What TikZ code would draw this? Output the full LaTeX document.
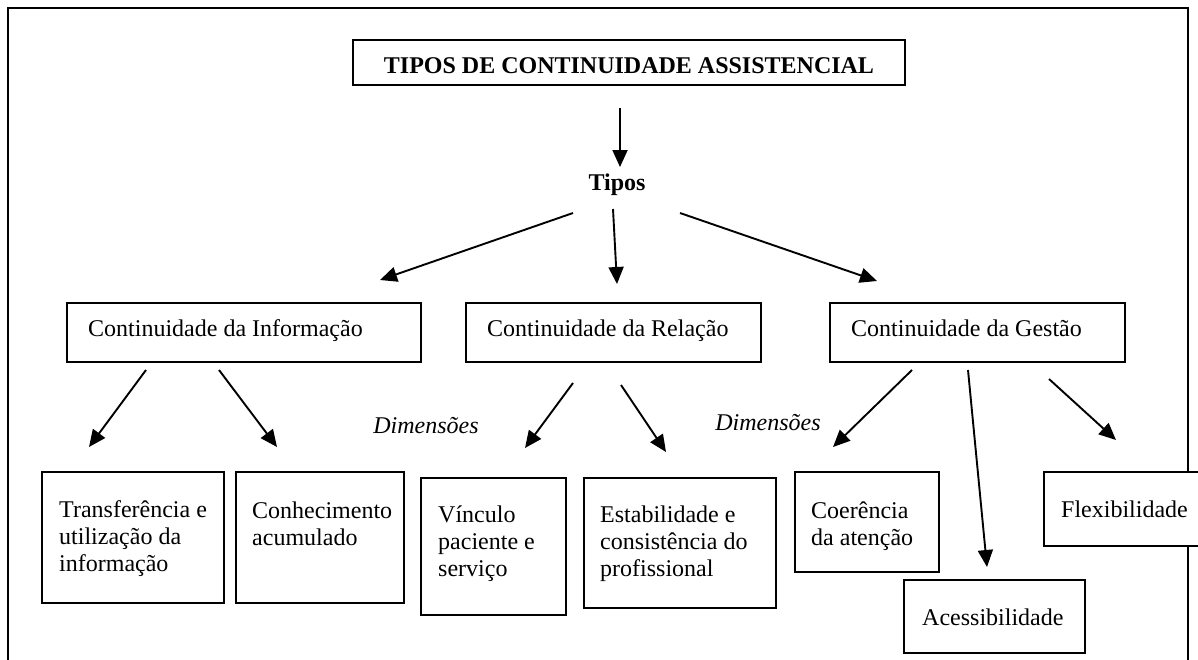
\documentclass[tikz,border=0pt]{standalone}
\usepackage{fontspec}
\setmainfont{Liberation Serif}
\usetikzlibrary{arrows.meta,fit}

\tikzset{
  box/.style={draw, line width=1.5pt, fill=white, inner sep=0pt, outer sep=0pt},
  txt/.style={inner sep=0pt, anchor=base west, align=left},
  dimtxt/.style={inner sep=0pt, anchor=base, font=\fontsize{24}{26.6}\selectfont\itshape},
  arr/.style={line width=1.9pt, -{Triangle[length=17pt,width=15pt]}},
  frame/.style={line width=2.6pt},
}

\begin{document}
\begin{tikzpicture}[x=1pt,y=-1pt,font=\fontsize{24}{26.6}\selectfont]
\useasboundingbox (0,0) rectangle (1198,659);
\clip (0,0) rectangle (1198,659);

% Drawing outer frame
\draw [frame] (8,690) -- (8,8) -- (1188,8) -- (1188,690);%

% Drawing title box
\node [box, fit={(353,40) (905,85)}] (titlebox) {};%
\node [inner sep=0pt, anchor=base, font=\fontsize{24}{26.6}\selectfont\bfseries] (title) at (629,73) {TIPOS DE CONTINUIDADE ASSISTENCIAL};%

% Marking Tipos
\node [inner sep=0pt, anchor=base, font=\fontsize{24}{26.6}\selectfont\bfseries] (tipos) at (617,190) {Tipos};%

% Drawing boxes of the types
\node [box, fit={(67,303) (421,362)}] (info) {};%
\node [txt] (infotxt) at (88,336) {Continuidade da Informação};%
\node [box, fit={(466,303) (761,362)}] (relacao) {};%
\node [txt] (relacaotxt) at (487,336) {Continuidade da Relação};%
\node [box, fit={(830,303) (1125,362)}] (gestao) {};%
\node [txt] (gestaotxt) at (851,336) {Continuidade da Gestão};%

% Marking Dimensões
\node [dimtxt] (dimrel) at (426,433) {Dimensões};%
\node [dimtxt] (dimges) at (768,430) {Dimensões};%

% Drawing boxes of the dimensions (text placed at baseline of last line)
\node [box, fit={(42,472) (224,603)}] (transf) {};%
\node [txt] (transftxt) at (59,571) {Transferência e\\utilização da\\informação};%
\node [box, fit={(236,472) (404,603)}] (conhec) {};%
\node [txt] (conhectxt) at (252,545) {Conhecimento\\acumulado};%
\node [box, fit={(421,478) (566,615)}] (vinculo) {};%
\node [txt] (vinculotxt) at (438,576) {Vínculo\\paciente e\\serviço};%
\node [box, fit={(584,478) (776,608)}] (estab) {};%
\node [txt] (estabtxt) at (600,576) {Estabilidade e\\consistência do\\profissional};%
\node [box, fit={(795,472) (939,572)}] (coerencia) {};%
\node [txt] (coerenciatxt) at (811,545) {Coerência\\da atenção};%
\node [box, fit={(904,580) (1085,653)}] (acess) {};%
\node [txt] (acesstxt) at (922,625) {Acessibilidade};%
\node [box, fit={(1044,472) (1215,546)}] (flex) {};%
\node [txt] (flextxt) at (1061,517) {Flexibilidade};%

% Arrow ends
\coordinate (a1) at (620,108);  \coordinate (b1) at (620,167);
\coordinate (a2) at (573,213);  \coordinate (b2) at (380,280);
\coordinate (a3) at (613,209);  \coordinate (b3) at (617,284);
\coordinate (a4) at (680,213);  \coordinate (b4) at (877,281);
\coordinate (a5) at (146,370);  \coordinate (b5) at (89,447);
\coordinate (a6) at (219,370);  \coordinate (b6) at (277,447);
\coordinate (a7) at (573,383);  \coordinate (b7) at (525,448);
\coordinate (a8) at (621,385);  \coordinate (b8) at (666,452);
\coordinate (a9) at (912,370);  \coordinate (b9) at (833,447);
\coordinate (a10) at (968,370); \coordinate (b10) at (987,567);
\coordinate (a11) at (1049,379); \coordinate (b11) at (1116,440);

% Drawing arrows
\foreach \i in {1,...,11}
  \draw [arr] (a\i) -- (b\i);%
\end{tikzpicture}
\end{document}
